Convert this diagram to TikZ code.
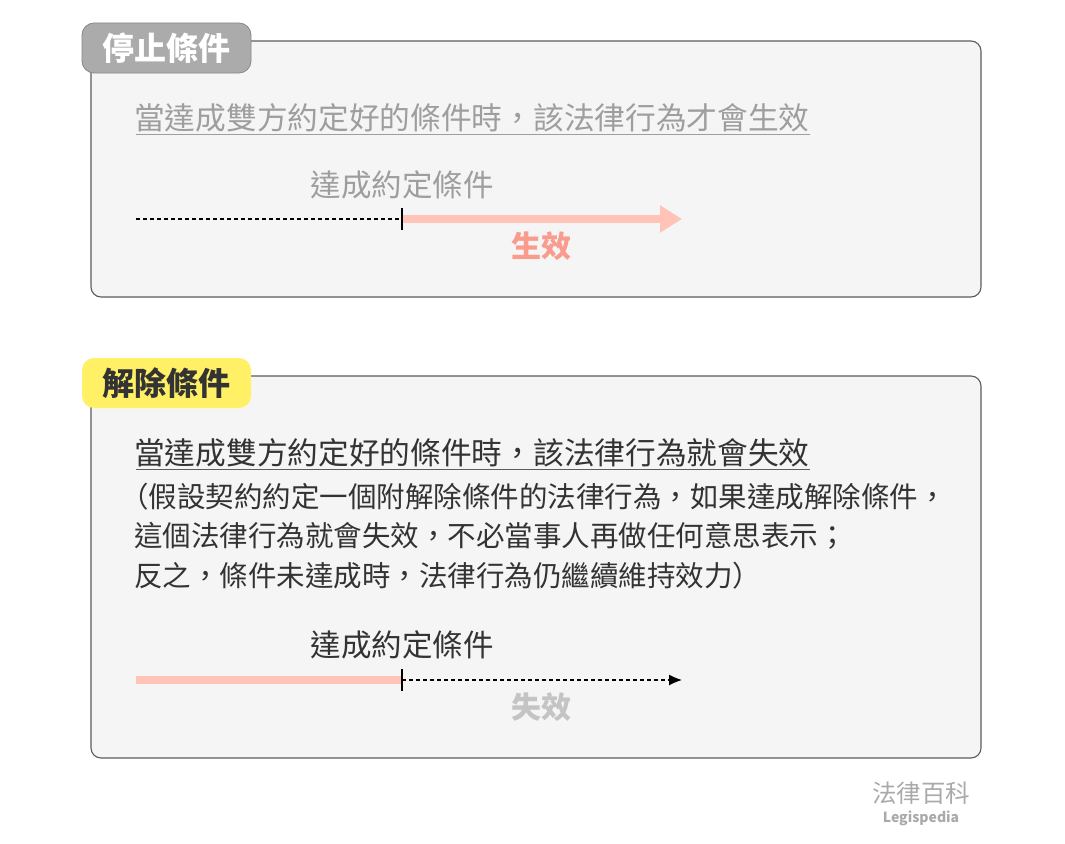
\documentclass[tikz,border=0pt]{standalone}
\usepackage{fontspec}
\setmainfont{Noto Sans CJK TC}
\usetikzlibrary{arrows.meta}
\usetikzlibrary{calc}
\definecolor{boxfill}{HTML}{F5F5F5}
\definecolor{boxline}{HTML}{5C5C5C}
\definecolor{mutedgray}{HTML}{9E9E9E}
\definecolor{inkdark}{HTML}{333333}
\definecolor{tagstop}{HTML}{ABABAB}
\definecolor{tagcancel}{HTML}{FFF066}
\definecolor{effectpink}{HTML}{FFC4B7}
\definecolor{effecttext}{HTML}{F99B8D}
\definecolor{lapsetext}{HTML}{C4C4C4}
\definecolor{brandgray}{HTML}{AAAAAA}
\tikzset{
  condbox/.style={draw=boxline, fill=boxfill, line width=1.1pt, rounded corners=10pt, inner sep=0pt},
  condtag/.style={rounded corners=12pt, minimum width=169pt, minimum height=50pt, inner sep=0pt,
    font=\fontsize{32}{38}\selectfont\bfseries},
  condhead/.style={anchor=west, inner sep=0pt, font=\fontsize{30.7}{36}\selectfont},
  condbody/.style={anchor=west, inner sep=0pt, text=inkdark, font=\fontsize{28.5}{34}\selectfont},
  meetlabel/.style={inner sep=0pt, font=\fontsize{30.5}{36}\selectfont},
  resultlabel/.style={inner sep=0pt, font=\fontsize{30}{36}\selectfont\bfseries},
  waitline/.style={black, line width=1.2pt, dash pattern=on 4pt off 3pt},
  effectline/.style={effectpink, line width=8pt},
  cutmark/.style={black, line width=1.2pt}
}

\begin{document}
\begin{tikzpicture}[x=1pt, y=-1pt]
  \useasboundingbox[fill=white] (0,0) rectangle (1065,843);

  % suspensive condition
  \node[condbox, minimum width=890pt, minimum height=256pt] (stopbox) at (536,169) {};
  \node[condtag, fill=tagstop, draw=tagstop!80!black, line width=0.8pt, text=white] (stoptag) at (166.5,48) {停止條件};
  \node[condhead, text=mutedgray] (stophead) at (134,118) {當達成雙方約定好的條件時，該法律行為才會生效};
  \draw[mutedgray, line width=1.2pt] ([xshift=2pt, yshift=-2pt]stophead.south west) -- ([yshift=-2pt]stophead.south east);
  \coordinate (stopstart) at (136,219);
  \coordinate (stopcut) at (402,219);
  \coordinate (stopend) at (682,219);
  \draw[waitline] (stopstart) -- (stopcut);
  \draw[effectline, -{Triangle[length=22pt, width=26pt]}] (stopcut) -- (stopend);
  \draw[cutmark] ([yshift=11pt]stopcut) -- ([yshift=-11pt]stopcut);
  \node[meetlabel, text=mutedgray] (stopmeet) at (402,185) {達成約定條件};
  \node[resultlabel, text=effecttext] (stopresult) at (541,246) {生效};

  % resolutive condition
  \node[condbox, minimum width=890pt, minimum height=382pt] (cancelbox) at (536,567) {};
  \node[condtag, fill=tagcancel, text=inkdark] (canceltag) at (166.5,383) {解除條件};
  \node[condhead, text=inkdark] (cancelhead) at (134,453) {當達成雙方約定好的條件時，該法律行為就會失效};
  \draw[boxline, line width=1.2pt] ([xshift=2pt, yshift=-2pt]cancelhead.south west) -- ([yshift=-2pt]cancelhead.south east);
  \node[condbody] (cancelnote1) at (120,497) {（假設契約約定一個附解除條件的法律行為，如果達成解除條件，};
  \node[condbody] (cancelnote2) at (134,536) {這個法律行為就會失效，不必當事人再做任何意思表示；};
  \node[condbody] (cancelnote3) at (134,576) {反之，條件未達成時，法律行為仍繼續維持效力）};
  \coordinate (cancelstart) at (136,680);
  \coordinate (cancelcut) at (402,680);
  \coordinate (cancelend) at (682,680);
  \draw[effectline] (cancelstart) -- (cancelcut);
  \draw[waitline, -{Latex[length=13pt, width=11pt]}] (cancelcut) -- (cancelend);
  \draw[cutmark] ([yshift=11pt]cancelcut) -- ([yshift=-11pt]cancelcut);
  \node[meetlabel, text=inkdark] (cancelmeet) at (402,645) {達成約定條件};
  \node[resultlabel, text=lapsetext] (cancelresult) at (541,707) {失效};

  % brand mark
  \node[inner sep=0pt, text=brandgray, font=\fontsize{24.5}{28}\selectfont] (brand) at (921,793) {法律百科};
  \node[inner sep=0pt, text=brandgray, font=\fontsize{14}{16}\selectfont\bfseries] (brandsub) at (921,818) {Legispedia};
\end{tikzpicture}
\end{document}
